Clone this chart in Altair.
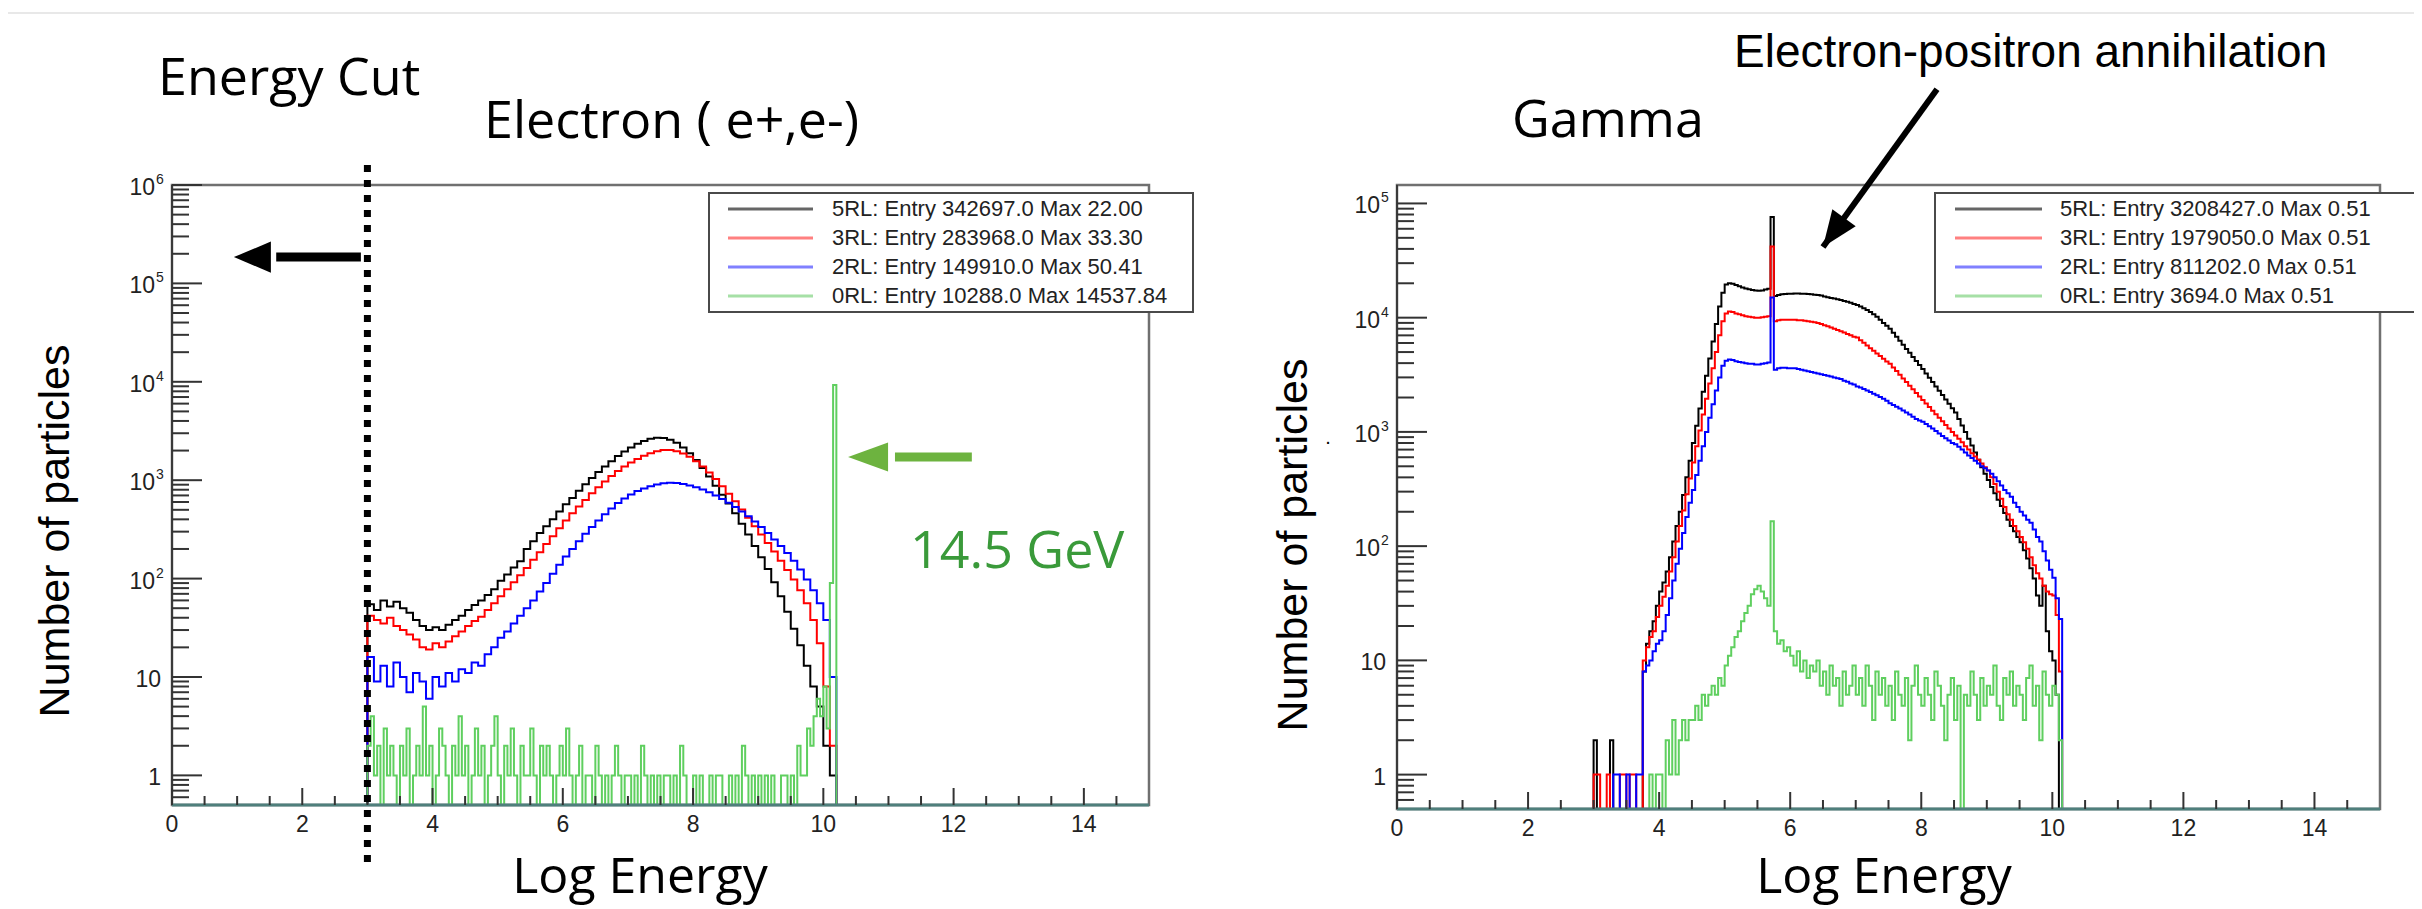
import altair as alt
import pandas as pd

# ---------------- data ----------------
SERIES = ["5RL", "3RL", "2RL", "0RL"]
LINE_COLORS = ["#000000", "#ff0000", "#0000ff", "#5fcf5f"]
LEGEND_COLORS = ["#666666", "#ff8080", "#8080ff", "#a6e0a6"]

E_LEGEND = ["5RL: Entry 342697.0 Max 22.00",
            "3RL: Entry 283968.0 Max 33.30",
            "2RL: Entry 149910.0 Max 50.41",
            "0RL: Entry 10288.0 Max 14537.84"]
G_LEGEND = ["5RL: Entry 3208427.0 Max  0.51",
            "3RL: Entry 1979050.0 Max  0.51",
            "2RL: Entry 811202.0 Max  0.51",
            "0RL: Entry 3694.0 Max  0.51"]

# Electron histograms: bins of 0.1 starting at 3.0
E_START, E_STEP = 3.0, 0.1
e_5RL = [55, 48, 60, 52, 58, 50, 45, 38, 33, 30,
         32, 30, 34, 38, 42, 48, 54, 60, 68, 78,
         95, 110, 130, 150, 200, 240, 290, 340, 400, 480,
         570, 660, 780, 910, 1050, 1210, 1380, 1560, 1760, 1960,
         2150, 2350, 2500, 2630, 2700, 2680, 2580, 2400, 2150, 1880,
         1600, 1330, 1090, 880, 710, 580, 460, 360, 280, 215,
         165, 125, 92, 66, 46, 31, 21, 13, 8, 5,
         2, 1]
e_3RL = [42, 38, 35, 40, 33, 30, 27, 24, 20, 19,
         22, 20, 23, 26, 29, 33, 37, 41, 48, 56,
         66, 78, 92, 108, 128, 155, 185, 225, 270, 325,
         390, 460, 540, 630, 735, 850, 970, 1100, 1240, 1380,
         1510, 1640, 1770, 1880, 1970, 2030, 2030, 1970, 1870, 1730,
         1560, 1380, 1200, 1030, 870, 730, 610, 505, 415, 340,
         280, 230, 188, 152, 122, 98, 76, 56, 38, 22,
         8, 2]
e_2RL = [16, 9, 13, 8, 14, 10, 7, 11, 9, 6,
         10, 8, 11, 9, 12, 11, 14, 13, 17, 20,
         25, 29, 35, 42, 50, 60, 74, 90, 112, 138,
         168, 200, 240, 285, 335, 390, 450, 515, 585, 650,
         715, 775, 825, 870, 905, 930, 940, 935, 915, 885,
         850, 805, 755, 700, 645, 590, 535, 480, 430, 380,
         335, 290, 250, 215, 182, 152, 124, 98, 76, 56,
         38, 10]
# Electron 0RL: bins of 0.05 starting at 3.0
EG_START, EG_STEP = 3.0, 0.05
e_0RL = [2, 4, 1, 2, 0, 3, 1, 2, 1, 0,
         2, 1, 3, 0, 1, 2, 1, 5, 1, 2,
         0, 1, 3, 2, 1, 0, 2, 1, 4, 1,
         2, 0, 1, 3, 1, 2, 0, 1, 2, 4,
         1, 0, 2, 1, 3, 1, 0, 2, 1, 1,
         3, 1, 0, 2, 1, 2, 1, 0, 1, 2,
         1, 3, 1, 0, 1, 2, 0, 1, 1, 0,
         2, 1, 0, 1, 0, 1, 2, 1, 0, 1,
         1, 0, 1, 0, 2, 1, 0, 1, 0, 1,
         0, 1, 1, 0, 1, 0, 2, 1, 0, 0,
         1, 0, 1, 0, 0, 1, 0, 1, 1, 0,
         0, 1, 0, 1, 0, 2, 1, 0, 1, 0,
         1, 0, 1, 0, 1, 0, 0, 1, 1, 0,
         1, 0, 2, 1, 1, 3, 2, 4, 6, 4,
         8, 3, 90, 9300]

# Gamma histograms: bins of 0.05 starting at 3.0
G_START, G_STEP = 3.0, 0.05
g_5RL = [2, 0, 0, 0, 0, 2, 0, 0, 0, 0,
         0, 0, 0, 0, 0, 8, 14, 18, 22, 30,
         40, 48, 60, 80, 110, 150, 200, 280, 400, 560,
         800, 1130, 1600, 2250, 3100, 4400, 6200, 8800, 12500, 16500,
         19500, 20000, 19800, 19300, 18800, 18400, 18000, 17700, 17500, 17300,
         17200, 17300, 17600, 17900, 76000, 15500, 15800, 16000, 16100, 16200,
         16200, 16300, 16300, 16200, 16200, 16100, 16000, 15900, 15800, 15600,
         15300, 15100, 14900, 14700, 14500, 14300, 14000, 13800, 13500, 13200,
         12900, 12500, 12100, 11700, 11200, 10700, 10200, 9600, 9000, 8500,
         8000, 7380, 6800, 6270, 5780, 5330, 4920, 4530, 4180, 3850,
         3550, 3250, 2980, 2730, 2500, 2290, 2100, 1920, 1760, 1610,
         1480, 1300, 1140, 1000, 870, 760, 660, 570, 490, 430,
         380, 330, 290, 255, 225, 195, 170, 150, 135, 120,
         108, 92, 78, 64, 52, 37, 30, 45, 18, 12,
         10, 5, 0, 0]
g_3RL = [1, 1, 0, 0, 1, 0, 0, 0, 1, 1,
         0, 1, 1, 0, 0, 10, 13, 16, 18, 24,
         30, 36, 45, 60, 80, 110, 150, 205, 285, 390,
         540, 750, 1030, 1420, 1950, 2650, 3600, 5000, 7000, 9300,
         10900, 11300, 11200, 10900, 10700, 10500, 10300, 10200, 10100, 10000,
         10000, 10100, 10200, 10300, 42000, 9300, 9500, 9600, 9600, 9600,
         9600, 9600, 9500, 9500, 9400, 9300, 9200, 9100, 9000, 8800,
         8600, 8400, 8200, 8000, 7800, 7600, 7400, 7200, 7000, 6800,
         6700, 6350, 6020, 5710, 5410, 5130, 4860, 4610, 4370, 4140,
         3950, 3670, 3410, 3170, 2940, 2730, 2540, 2360, 2190, 2040,
         1900, 1770, 1650, 1530, 1430, 1330, 1240, 1150, 1070, 1000,
         930, 870, 810, 750, 700, 650, 610, 570, 530, 490,
         460, 400, 350, 300, 260, 220, 190, 170, 150, 135,
         120, 108, 95, 80, 68, 58, 52, 45, 40, 38,
         37, 25, 8, 0]
g_2RL = [0, 0, 0, 0, 0, 0, 1, 1, 0, 0,
         1, 0, 0, 1, 1, 8, 9, 10, 12, 14,
         15, 18, 25, 35, 50, 70, 95, 130, 180, 240,
         310, 420, 560, 750, 1000, 1330, 1750, 2300, 3000, 3800,
         4200, 4300, 4250, 4150, 4100, 4050, 4000, 3950, 3950, 3900,
         3900, 3950, 4000, 4050, 15000, 3500, 3600, 3650, 3650, 3600,
         3600, 3600, 3550, 3500, 3450, 3400, 3350, 3300, 3250, 3200,
         3150, 3100, 3050, 3000, 2950, 2900, 2800, 2750, 2650, 2600,
         2500, 2450, 2380, 2300, 2230, 2160, 2090, 2020, 1950, 1870,
         1780, 1720, 1660, 1600, 1540, 1480, 1420, 1360, 1300, 1260,
         1230, 1170, 1120, 1070, 1020, 970, 920, 880, 840, 800,
         780, 740, 700, 660, 620, 590, 560, 530, 500, 480,
         460, 430, 400, 370, 340, 310, 290, 270, 240, 220,
         200, 185, 170, 160, 140, 120, 110, 90, 75, 62,
         53, 35, 23, 0]
g_0RL = [0, 0, 0, 0, 0, 0, 0, 0, 0, 0,
         0, 0, 0, 0, 0, 0, 0, 1, 0, 1,
         1, 0, 2, 1, 3, 1, 2, 3, 2, 3,
         3, 4, 3, 5, 4, 5, 6, 5, 7, 6,
         9, 11, 13, 16, 18, 22, 26, 30, 38, 42,
         45, 40, 35, 30, 165, 18, 14, 15, 12, 13,
         11, 9, 12, 8, 10, 7, 9, 8, 10, 6,
         8, 5, 9, 6, 7, 4, 8, 5, 6, 9,
         5, 7, 4, 9, 6, 3, 8, 5, 7, 4,
         6, 3, 8, 5, 4, 7, 2, 6, 9, 5,
         4, 7, 5, 3, 8, 6, 4, 2, 5, 7,
         3, 6, 0, 5, 4, 8, 5, 3, 7, 4,
         6, 5, 9, 4, 3, 7, 5, 8, 4, 6,
         5, 3, 7, 9, 4, 6, 2, 8, 5, 4,
         6, 5, 2, 0]

# axis ticks / labels
X_MAJOR = [0, 2, 4, 6, 8, 10, 12, 14]
X_MINOR = [0.5, 1, 1.5, 2.5, 3, 3.5, 4.5, 5, 5.5, 6.5, 7, 7.5, 8.5, 9, 9.5,
           10.5, 11, 11.5, 12.5, 13, 13.5, 14.5]
E_Y_DECADES = [1, 10, 100, 1e3, 1e4, 1e5, 1e6]
G_Y_DECADES = [1, 10, 100, 1e3, 1e4, 1e5]
Y_SUBS = [2, 3, 4, 5, 6, 7, 8, 9]
Y_BELOW_ONE = [0.6, 0.7, 0.8, 0.9]
EXPONENTS = ["2", "3", "4", "5", "6"]

# annotation anchors (data coordinates of each panel)
E_CUT = 3.0
BLACK_ARROW = dict(x_tail=2.9, x_mid=1.6, x_tip=0.95, y=1.85e5)
GREEN_ARROW = dict(x_tail=12.28, x_mid=11.1, x_tip=10.38, y=1720)
GAMMA_ARROW = dict(x_tail=8.24, y_tail=1.0e6, x_tip=6.50, y_tip=4.16e4)

# ---------------- layout ----------------
W, H = 2406, 901
PANELS = {
    "e": dict(x0=164, x1=1141, y0=797, y1=177, ydom=[0.5, 1e6]),
    "g": dict(x0=1389, x1=2372, y0=801, y1=177, ydom=[0.5, 1.45e5]),
}
TICK = "#333333"
LABEL_FONT = "Liberation Sans"
TITLE_FONT = "Open Sans"


def xscale(p):
    P = PANELS[p]
    return alt.Scale(domain=[0, 15], range=[P["x0"], P["x1"]], nice=False, zero=False)


def yscale(p, clamp=True):
    P = PANELS[p]
    return alt.Scale(type="log", domain=P["ydom"], range=[P["y0"], P["y1"]],
                     nice=False, clamp=clamp)


def hist_frame(start, step, values, floor):
    xs = [start] + [round(start + step * i, 4) for i in range(len(values))] + \
         [round(start + step * len(values), 4)]
    vs = [0] + list(values) + [0]
    df = pd.DataFrame({"x": xs, "v": vs})
    df["idx"] = range(len(df))
    df["vy"] = df["v"].clip(lower=floor)
    return df


def hist_layer(p, start, step, values, color):
    df = hist_frame(start, step, values, PANELS[p]["ydom"][0])
    return alt.Chart(df).mark_line(interpolate="step-after", color=color,
                                   strokeWidth=2).encode(
        x=alt.X("x:Q", scale=xscale(p), axis=None),
        y=alt.Y("vy:Q", scale=yscale(p), axis=None),
        order=alt.Order("idx:Q"))


def text_layer(txt, x, y, size, font, color="#000000", align="left",
               baseline="alphabetic", angle=0):
    return alt.Chart(pd.DataFrame({"t": [txt]})).mark_text(
        align=align, baseline=baseline, font=font, fontSize=size, color=color,
        angle=angle).encode(x=alt.value(x), y=alt.value(y), text="t:N")


def frame_layers(p):
    P = PANELS[p]
    one = pd.DataFrame({"a": [0]})
    box = alt.Chart(one).mark_rect(fillOpacity=0, stroke="#707070", strokeWidth=2.5).encode(
        x=alt.value(P["x0"]), x2=alt.value(P["x1"]), y=alt.value(P["y1"]), y2=alt.value(P["y0"]))
    left = alt.Chart(one).mark_rule(color="#3a3a3a", strokeWidth=2).encode(
        x=alt.value(P["x0"]), y=alt.value(P["y1"]), y2=alt.value(P["y0"]))
    return [box, left]


def axis_layers(p, decades):
    P = PANELS[p]
    out = []
    # bottom axis line (teal-grey)
    out.append(alt.Chart(pd.DataFrame({"a": [0]})).mark_rule(color="#4f7f7c", strokeWidth=3).encode(
        x=alt.value(P["x0"]), x2=alt.value(P["x1"]), y=alt.value(P["y0"])))
    # x ticks (inward)
    for vals, ln in ((X_MAJOR, 17), (X_MINOR, 9)):
        out.append(alt.Chart(pd.DataFrame({"x": vals})).mark_rule(color=TICK, strokeWidth=2).encode(
            x=alt.X("x:Q", scale=xscale(p), axis=None),
            y=alt.value(P["y0"]), y2=alt.value(P["y0"] - ln)))
    # x labels
    out.append(alt.Chart(pd.DataFrame({"x": X_MAJOR, "t": [str(v) for v in X_MAJOR]})).mark_text(
        font=LABEL_FONT, fontSize=23, color="#222222", baseline="middle", align="center").encode(
        x=alt.X("x:Q", scale=xscale(p), axis=None),
        y=alt.value(P["y0"] + 20), text="t:N"))
    # y ticks (inward)
    minors = list(Y_BELOW_ONE) + [k * d for d in decades if d * 2 <= P["ydom"][1] for k in Y_SUBS]
    minors = [m for m in minors if m <= P["ydom"][1]]
    for vals, ln in ((decades, 30), (minors, 17)):
        out.append(alt.Chart(pd.DataFrame({"v": vals})).mark_rule(color=TICK, strokeWidth=2).encode(
            y=alt.Y("v:Q", scale=yscale(p), axis=None),
            x=alt.value(P["x0"]), x2=alt.value(P["x0"] + ln)))
    # y labels
    plain = pd.DataFrame({"v": decades[:2], "t": ["1", "10"]})
    out.append(alt.Chart(plain).mark_text(font=LABEL_FONT, fontSize=23, color="#222222",
                                          align="right", baseline="middle", dy=3).encode(
        y=alt.Y("v:Q", scale=yscale(p), axis=None), x=alt.value(P["x0"] - 11), text="t:N"))
    powd = pd.DataFrame({"v": decades[2:], "t": ["10"] * len(decades[2:]),
                         "e": EXPONENTS[:len(decades) - 2]})
    out.append(alt.Chart(powd).mark_text(font=LABEL_FONT, fontSize=23, color="#222222",
                                         align="right", baseline="middle", dy=3).encode(
        y=alt.Y("v:Q", scale=yscale(p), axis=None), x=alt.value(P["x0"] - 17), text="t:N"))
    out.append(alt.Chart(powd).mark_text(font=LABEL_FONT, fontSize=14, color="#222222",
                                         align="left", baseline="middle", dy=-5).encode(
        y=alt.Y("v:Q", scale=yscale(p), axis=None), x=alt.value(P["x0"] - 16), text="e:N"))
    return out


def legend_layers(labels, bx0, bx1, by0, by1, lx0, lx1, tx, ry0, ry1):
    df = pd.DataFrame({"row": [0, 1, 2, 3], "series": SERIES, "label": labels})
    rowscale = alt.Scale(domain=[0, 3], range=[ry0, ry1])
    col = alt.Color("series:N", scale=alt.Scale(domain=SERIES, range=LEGEND_COLORS), legend=None)
    box = alt.Chart(pd.DataFrame({"a": [0]})).mark_rect(fill="white", stroke="#4a4a4a", strokeWidth=2).encode(
        x=alt.value(bx0), x2=alt.value(bx1), y=alt.value(by0), y2=alt.value(by1))
    lines = alt.Chart(df).mark_rule(strokeWidth=3).encode(
        y=alt.Y("row:Q", scale=rowscale, axis=None), x=alt.value(lx0), x2=alt.value(lx1), color=col)
    texts = alt.Chart(df).mark_text(font=LABEL_FONT, fontSize=22, color="#222222",
                                    align="left", baseline="middle").encode(
        y=alt.Y("row:Q", scale=rowscale, axis=None), x=alt.value(tx), text="label:N")
    return [box, lines, texts]


layers = []
# top faint line of the slide
layers.append(alt.Chart(pd.DataFrame({"a": [0]})).mark_rule(color="#e8e8e8", strokeWidth=2).encode(
    x=alt.value(0), x2=alt.value(W), y=alt.value(5)))

# ---- electron panel ----
layers += frame_layers("e")
layers.append(hist_layer("e", E_START, E_STEP, e_5RL, LINE_COLORS[0]))
layers.append(hist_layer("e", E_START, E_STEP, e_3RL, LINE_COLORS[1]))
layers.append(hist_layer("e", E_START, E_STEP, e_2RL, LINE_COLORS[2]))
layers.append(hist_layer("e", EG_START, EG_STEP, e_0RL, LINE_COLORS[3]))
layers += axis_layers("e", E_Y_DECADES)
layers += legend_layers(E_LEGEND, 701, 1185, 185, 304, 720, 805, 824, 201, 288)

# ---- gamma panel ----
layers += frame_layers("g")
layers.append(hist_layer("g", G_START, G_STEP, g_5RL, LINE_COLORS[0]))
layers.append(hist_layer("g", G_START, G_STEP, g_3RL, LINE_COLORS[1]))
layers.append(hist_layer("g", G_START, G_STEP, g_2RL, LINE_COLORS[2]))
layers.append(hist_layer("g", G_START, G_STEP, g_0RL, LINE_COLORS[3]))
layers += axis_layers("g", G_Y_DECADES)
layers += legend_layers(G_LEGEND, 1927, 2413, 185, 304, 1947, 2034, 2052, 201, 288)

# ---- energy-cut dotted line ----
layers.append(alt.Chart(pd.DataFrame({"x": [E_CUT]})).mark_rule(
    color="#000000", strokeWidth=7, strokeDash=[7, 8]).encode(
    x=alt.X("x:Q", scale=xscale("e"), axis=None), y=alt.value(157), y2=alt.value(857)))

# ---- arrows ----
HEAD_LEFT_BLACK = "M0,0L2,-0.84L2,0.84Z"
HEAD_LEFT_GREEN = "M0,0L2,-0.72L2,0.72Z"
HEAD_GAMMA = "M0,0L2,-0.8L2,0.8Z"

bdf = pd.DataFrame({"x": [BLACK_ARROW["x_tail"]], "xm": [BLACK_ARROW["x_mid"]],
                    "xt": [BLACK_ARROW["x_tip"]], "y": [BLACK_ARROW["y"]]})
layers.append(alt.Chart(bdf).mark_rule(color="#000000", strokeWidth=9).encode(
    x=alt.X("x:Q", scale=xscale("e"), axis=None), x2="xm:Q",
    y=alt.Y("y:Q", scale=yscale("e", False), axis=None)))
layers.append(alt.Chart(bdf).mark_point(shape=HEAD_LEFT_BLACK, filled=True, size=1369,
                                        color="#000000", opacity=1, strokeWidth=0).encode(
    x=alt.X("xt:Q", scale=xscale("e"), axis=None),
    y=alt.Y("y:Q", scale=yscale("e", False), axis=None)))

gdf = pd.DataFrame({"x": [GREEN_ARROW["x_tail"]], "xm": [GREEN_ARROW["x_mid"]],
                    "xt": [GREEN_ARROW["x_tip"]], "y": [GREEN_ARROW["y"]]})
layers.append(alt.Chart(gdf).mark_rule(color="#6db33f", strokeWidth=9).encode(
    x=alt.X("x:Q", scale=xscale("e"), axis=None), x2="xm:Q",
    y=alt.Y("y:Q", scale=yscale("e", False), axis=None)))
layers.append(alt.Chart(gdf).mark_point(shape=HEAD_LEFT_GREEN, filled=True, size=1600,
                                        color="#6db33f", opacity=1, strokeWidth=0).encode(
    x=alt.X("xt:Q", scale=xscale("e"), axis=None),
    y=alt.Y("y:Q", scale=yscale("e", False), axis=None)))

adf = pd.DataFrame({"x": [GAMMA_ARROW["x_tail"]], "y": [GAMMA_ARROW["y_tail"]],
                    "xt": [GAMMA_ARROW["x_tip"]], "yt": [GAMMA_ARROW["y_tip"]]})
layers.append(alt.Chart(adf).mark_rule(color="#000000", strokeWidth=6).encode(
    x=alt.X("x:Q", scale=xscale("g"), axis=None), x2="xt:Q",
    y=alt.Y("y:Q", scale=yscale("g", False), axis=None), y2="yt:Q"))
layers.append(alt.Chart(adf).mark_point(shape=HEAD_GAMMA, filled=True, size=1296, angle=305.8,
                                        color="#000000", opacity=1, strokeWidth=0).encode(
    x=alt.X("xt:Q", scale=xscale("g"), axis=None),
    y=alt.Y("yt:Q", scale=yscale("g", False), axis=None)))

# ---- texts ----
layers.append(text_layer("Energy Cut", 150, 87, 52, TITLE_FONT))
layers.append(text_layer("Electron ( e+,e-)", 476, 130, 52, TITLE_FONT))
layers.append(text_layer("Gamma", 1504, 129, 52, TITLE_FONT))
layers.append(text_layer("Electron-positron annihilation", 1726, 59, 46, LABEL_FONT))
layers.append(text_layer("14.5 GeV", 902, 560, 52, TITLE_FONT, color="#3a9a3a"))
layers.append(text_layer("Log Energy", 632, 885, 50, TITLE_FONT, align="center"))
layers.append(text_layer("Log Energy", 1876, 885, 50, TITLE_FONT, align="center"))
layers.append(text_layer("Number of particles", 48, 523, 43, LABEL_FONT, align="center",
                         baseline="middle", angle=270))
layers.append(text_layer("Number of particles", 1286, 537, 43, LABEL_FONT, align="center",
                         baseline="middle", angle=270))
layers.append(text_layer(".", 1320, 430, 20, LABEL_FONT, align="center", baseline="middle"))

chart = alt.layer(*layers).resolve_scale(
    x="independent", y="independent", color="independent"
).properties(
    width=W, height=H, padding=0,
    autosize=alt.AutoSizeParams(type="none"),
).configure_view(stroke=None)

chart.save("out.html", embed_options={"renderer": "svg", "actions": False})
